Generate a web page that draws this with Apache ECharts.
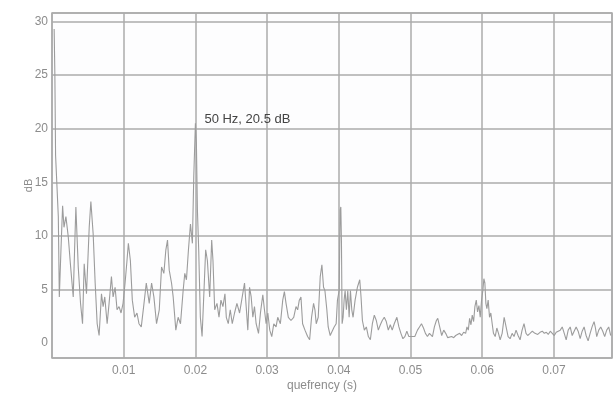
<!DOCTYPE html>
<html>
<head>
<meta charset="utf-8">
<script src="https://cdn.jsdelivr.net/npm/echarts@6/dist/echarts.min.js"></script>
<style>
  html, body { margin: 0; padding: 0; background: #fff; }
  #chart { width: 614px; height: 394px; }
</style>
</head>
<body>
<div id="chart"></div>
<script>
// 倒谱数据
const quefrency = [
  0.0003, 0.0004, 0.0005, 0.0006, 0.00088, 0.00102, 0.00125, 0.00148, 0.00167, 0.00194,
  0.00227, 0.0026, 0.00296, 0.00315, 0.00333, 0.00366, 0.00398, 0.00426, 0.00449, 0.00481,
  0.00519, 0.00542, 0.00574, 0.00602, 0.0063, 0.00657, 0.0069, 0.00713, 0.00736, 0.00769,
  0.00796, 0.00829, 0.00852, 0.0088, 0.00907, 0.00935, 0.00963, 0.00991, 0.01019, 0.01046,
  0.01065, 0.01093, 0.0112, 0.01153, 0.01185, 0.01213, 0.01245, 0.01278, 0.01315,
  0.01356, 0.01389, 0.01421, 0.01458, 0.01496, 0.01528, 0.0156, 0.01588, 0.01611, 0.01635,
  0.01667, 0.0169, 0.01727, 0.01759, 0.01792, 0.01829, 0.01852, 0.01875, 0.01903, 0.01931,
  0.01958, 0.01977, 0.02, 0.02014, 0.02028, 0.02046, 0.02069, 0.02093, 0.02116, 0.02143,
  0.02167, 0.02199, 0.02227, 0.02245, 0.02269, 0.02301, 0.02329, 0.02356, 0.02384, 0.02412,
  0.02431, 0.02458, 0.02486, 0.02514, 0.02546, 0.02579, 0.02616, 0.02653, 0.02685,
  0.02708, 0.02731, 0.02755, 0.02778, 0.02801, 0.02824, 0.02847, 0.0288, 0.02907, 0.0294,
  0.02963, 0.02986, 0.0301, 0.03037, 0.03065, 0.03093, 0.03125, 0.03148, 0.03185, 0.03218,
  0.03241, 0.03264, 0.03296, 0.03333, 0.03371, 0.03403, 0.03426, 0.03449, 0.03472, 0.03495,
  0.03528, 0.03565, 0.03593, 0.0362, 0.03648, 0.03667, 0.03685, 0.03713, 0.03741, 0.03764,
  0.03787, 0.03806, 0.03833, 0.03852, 0.0388, 0.03907, 0.03935, 0.03963,
  0.03981, 0.04005, 0.04019, 0.04028, 0.04037, 0.04046, 0.0406, 0.04074, 0.04088, 0.04106,
  0.04125, 0.04144, 0.04162, 0.04181, 0.04199, 0.04227, 0.04259, 0.04292, 0.0431, 0.04329,
  0.04356, 0.04384, 0.04412, 0.0444, 0.04468, 0.04495, 0.04523, 0.04551, 0.04579, 0.04606,
  0.04634, 0.04662, 0.0469, 0.04718, 0.04745, 0.04773, 0.0481, 0.04838, 0.04866, 0.04894,
  0.04921, 0.04949, 0.04977, 0.05005, 0.05032, 0.0506, 0.05097, 0.05125, 0.05153, 0.05181,
  0.05208, 0.05236, 0.05264,
  0.05306, 0.05333, 0.05361, 0.0538, 0.05407, 0.05435, 0.05463, 0.05491, 0.05519, 0.05546,
  0.05574, 0.05602, 0.0563, 0.05657, 0.05685, 0.05713, 0.05741, 0.05769, 0.05787, 0.05806,
  0.05824, 0.05843, 0.05861, 0.0588, 0.05898, 0.05917, 0.05935, 0.05954, 0.05972, 0.05991,
  0.06009, 0.06023, 0.06037, 0.06051, 0.06065, 0.06083, 0.06102, 0.0612, 0.06139, 0.06157,
  0.06181, 0.06204, 0.06227, 0.0625, 0.06278, 0.06306, 0.06333, 0.06361, 0.06389, 0.06417,
  0.06444, 0.06472, 0.065, 0.06528, 0.06556, 0.06583, 0.06611,
  0.06634, 0.06667, 0.06699, 0.06736, 0.06774, 0.06806, 0.06838, 0.06866, 0.06894, 0.06921,
  0.06949, 0.06977, 0.07005, 0.07032, 0.0706, 0.07088, 0.07116, 0.07144, 0.07171, 0.07199,
  0.07227, 0.07255, 0.07282, 0.0731, 0.07338, 0.07366, 0.07394, 0.07421, 0.07449, 0.07477,
  0.07505, 0.07532, 0.0756, 0.07579, 0.07597, 0.07625, 0.07653, 0.07681, 0.07708, 0.07736,
  0.07764, 0.07792
];

const cepstrumDb = [
  29.3, 25, 17.5, 16, 11.8, 4.3, 8.7, 12.8, 10.8, 11.8,
  9.9, 7.1, 4.3, 8.7, 12.7, 7.1, 3.7, 1.8, 7.4, 4.6,
  10.8, 13.2, 10.2, 5.6, 1.8, 0.7, 4.6, 3.4, 4.3, 1.8,
  3.7, 6.2, 4.3, 5.2, 3.1, 3.4, 2.8, 3.7, 5.6, 7.7,
  9.3, 7.7, 4.0, 2.4, 2.8, 1.8, 1.5, 3.4, 5.6,
  3.7, 5.6, 4.3, 1.8, 3.1, 7.1, 6.5, 8.7, 9.6, 6.8,
  5.6, 4.3, 1.2, 2.4, 1.8, 4.9, 6.5, 5.9, 8.7, 11.1,
  9.3, 15.5, 20.5, 18.6, 12.4, 8.7, 2.4, 0.6, 4.3, 8.7,
  7.7, 4.3, 9.6, 7.7, 3.1, 3.7, 2.4, 4.0, 3.4, 4.6,
  2.4, 1.8, 3.1, 1.8, 2.8, 3.7, 2.8, 4.3, 5.6,
  3.4, 1.2, 5.2, 4.3, 2.4, 3.4, 1.8, 0.9, 2.8, 4.5,
  3.1, 1.8, 2.8, 1.2, 0.6, 1.8, 1.5, 2.4, 1.8, 4.0,
  4.8, 3.7, 2.4, 2.1, 2.4, 3.4, 3.1, 4.0, 4.3, 1.8,
  1.2, 0.6, 0.3, 2.4, 3.7, 3.1, 1.8, 2.4, 6.2, 7.3,
  5.2, 4.9, 3.1, 1.5, 0.7, 0.6, 1.5, 1.8,
  4.0, 4.9, 12.4, 12.7, 9.3, 1.8, 2.4, 4.0, 4.9, 3.1,
  4.9, 2.4, 4.9, 3.1, 2.4, 4.0, 5.2, 5.9, 4.3, 2.1,
  1.2, 1.5, 0.6, 0.3, 1.8, 2.6, 2.1, 1.2, 1.7, 2.1,
  2.4, 2.0, 1.2, 1.7, 1.2, 1.8, 2.4, 1.5, 0.9, 0.4,
  0.6, 1.1, 0.6, 0.6, 0.7, 0.6, 1.2, 1.5, 1.8, 1.4,
  0.9, 0.6, 0.9,
  0.6, 1.5, 2.1, 2.3, 1.5, 0.7, 1.2, 0.9, 0.5, 0.4,
  0.6, 0.5, 0.7, 0.7, 0.9, 0.7, 1.0, 0.9, 1.5, 1.2,
  2.3, 1.7, 2.6, 2.0, 3.4, 4.0, 2.9, 3.5, 2.4, 4.0,
  4.9, 6.0, 5.6, 3.7, 3.2, 4.0, 2.4, 2.8, 1.8, 0.9,
  0.6, 1.4, 0.9, 0.3, 0.9, 2.4, 1.5, 0.6, 0.4, 0.9,
  0.6, 1.2, 0.7, 0.3, 1.2, 1.8, 0.9,
  0.7, 0.9, 1.1, 0.9, 0.8, 1.0, 1.1, 0.9, 1.0, 0.8,
  1.1, 0.9, 0.7, 1.0, 1.1, 1.2, 1.5, 0.9, 0.3, 1.2,
  1.5, 0.7, 1.1, 1.5, 1.1, 0.4, 1.1, 1.5, 0.7, 0.2,
  0.9, 1.5, 2.0, 1.4, 0.6, 1.2, 1.5, 1.1, 0.6, 1.2,
  1.5, 0.7
];

// 刻度标签
const xTicks = [0.01, 0.02, 0.03, 0.04, 0.05, 0.06, 0.07];
const yTicks = [0, 5, 10, 15, 20, 25, 30];

// 50 Hz 峰值标注
const peakQuefrency = 0.02;
const peakDb = 20.5;
const peakText = '50 Hz, 20.5 dB';

const seriesData = quefrency.map((q, i) => [q, cepstrumDb[i]]);

const chart = echarts.init(document.getElementById('chart'));
const labelStyle = { color: '#8c8c8c', fontSize: 12, fontFamily: 'Liberation Sans, Arial, sans-serif' };
const lineGray = '#ababab';

// y 方向网格线：下边界, 0 处不画, 5..30, 上边界
const ySplitColors = [lineGray, 'rgba(0,0,0,0)', lineGray, lineGray, lineGray, lineGray, lineGray, lineGray, lineGray];

chart.setOption({
    animation: false,
    backgroundColor: '#ffffff',
    grid: {
        left: 52, top: 13, right: 2, bottom: 36,
        outerBoundsMode: 'none',
        show: true, backgroundColor: '#fdfdfe', borderColor: lineGray, borderWidth: 1.5
    },
    xAxis: {
        type: 'value',
        min: 0,
        max: 0.0781,
        splitNumber: 8,
        name: 'quefrency (s)',
        nameLocation: 'middle',
        nameGap: 22,
        nameMoveOverlap: false,
        nameTextStyle: { ...labelStyle, padding: [0, 20, 0, 0] },
        axisLine: { show: false },
        axisTick: { show: false },
        axisLabel: {
            ...labelStyle,
            margin: 7,
            showMinLabel: false,
            showMaxLabel: false,
            formatter: v => xTicks.find(t => Math.abs(t - v) < 1e-9) !== undefined ? v.toFixed(2) : ''
        },
        splitLine: { show: true, lineStyle: { color: lineGray, width: 1.5 } }
    },
    yAxis: {
        type: 'value',
        min: -1.4,
        max: 30.8,
        splitNumber: 6,
        name: 'dB',
        nameLocation: 'middle',
        nameGap: 18,
        nameMoveOverlap: false,
        nameTextStyle: { ...labelStyle, fontSize: 11 },
        axisLine: { show: false },
        axisTick: { show: false },
        axisLabel: {
            ...labelStyle,
            margin: 4,
            showMinLabel: false,
            showMaxLabel: false,
            formatter: v => yTicks.includes(v) ? String(v) : ''
        },
        splitLine: { show: true, lineStyle: { color: ySplitColors, width: 1.5 } }
    },
    series: [{
        type: 'line',
        data: seriesData,
        showSymbol: false,
        symbol: 'none',
        lineStyle: { color: '#9c9c9c', width: 1.1 },
        markPoint: {
            symbol: 'circle',
            symbolSize: 0,
            data: [{ coord: [peakQuefrency, peakDb] }],
            label: {
                show: true,
                position: 'right',
                offset: [4, -4],
                formatter: peakText,
                color: '#444',
                fontSize: 13,
                fontFamily: 'Liberation Sans, Arial, sans-serif'
            }
        }
    }]
});
</script>
</body>
</html>
